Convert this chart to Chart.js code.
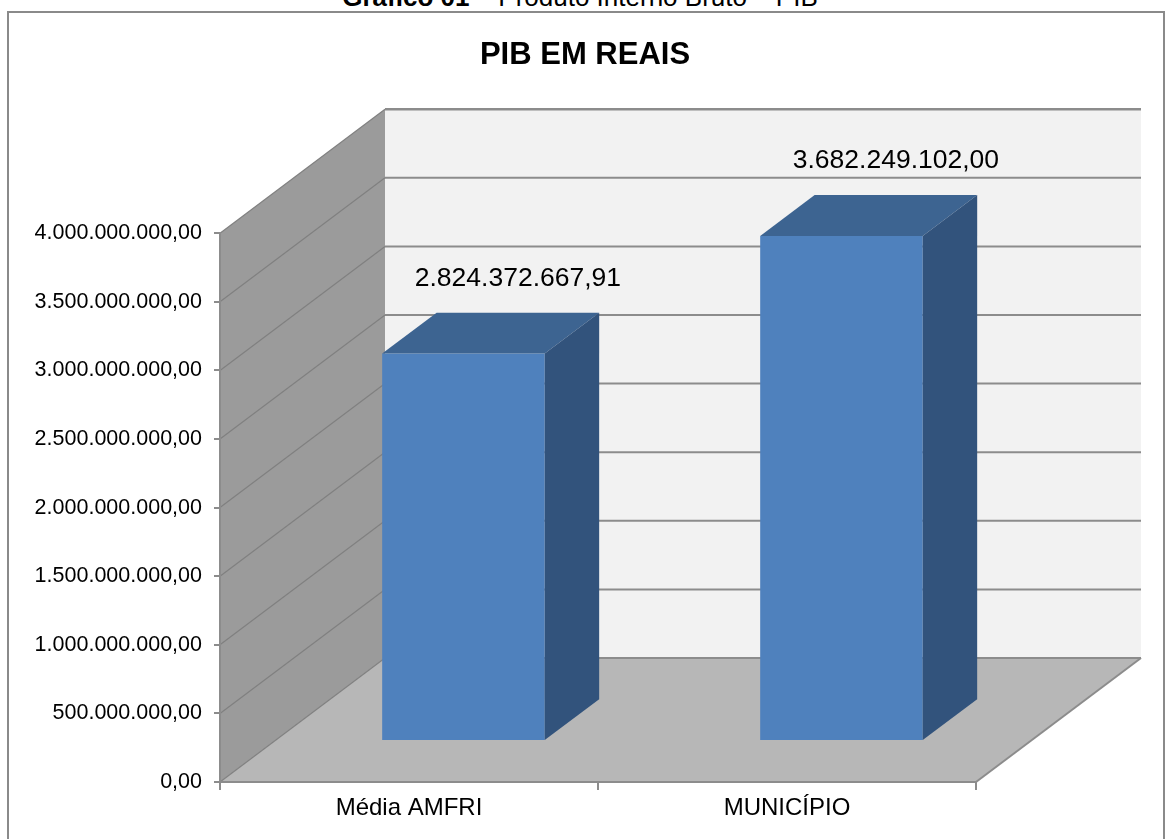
<!DOCTYPE html>
<html>
<head>
<meta charset="utf-8">
<script src="https://cdn.jsdelivr.net/npm/chart.js@4/dist/chart.umd.min.js"></script>
<style>
  body { margin: 0; background: #fff; width: 1170px; height: 839px; overflow: hidden; position: relative; font-family: "Liberation Sans", Arial, sans-serif; }
  #cap { position: absolute; top: -18px; left: 0; width: 1160px; text-align: center; font-size: 26px; line-height: 30px; color: #000; white-space: nowrap; }
  #frame { position: absolute; left: 7px; top: 11px; width: 1154px; height: 900px; border: 2px solid #8a8a8a; }
  #wrap { position: absolute; left: 0; top: 0; width: 1170px; height: 839px; }
</style>
</head>
<body>
<div id="cap"><b>Gráfico 01</b> – Produto Interno Bruto – PIB</div>
<div id="frame"></div>
<div id="wrap"><canvas id="chart"></canvas></div>
<script>
const categories = ["Média AMFRI", "MUNICÍPIO"];
const pibValues = [2824372667.91, 3682249102.00];
const yMin = 0;
const yMax = 4000000000;
const yStep = 500000000;

// 3D look (Excel style oblique projection)
const depth = { x: 165, y: -124 };
const barFront = 0.33, barDepth = 0.33;
const FONT = "'Liberation Sans', Arial, sans-serif";

function fmt(v) {
  const [i, d] = v.toFixed(2).split(".");
  return i.replace(/\B(?=(\d{3})+(?!\d))/g, ".") + "," + d;
}

const wallsPlugin = {
  id: "walls",
  beforeDraw(chart) {
    const { ctx, chartArea: a, scales: { y } } = chart;
    const L = a.left, R = a.right, T = a.top, B = a.bottom;
    const dx = depth.x, dy = depth.y;
    ctx.save();
    // side wall
    ctx.fillStyle = "#9b9b9b";
    ctx.beginPath();
    ctx.moveTo(L, T); ctx.lineTo(L + dx, T + dy); ctx.lineTo(L + dx, B + dy); ctx.lineTo(L, B);
    ctx.closePath(); ctx.fill();
    // back wall
    ctx.fillStyle = "#f2f2f2";
    ctx.fillRect(L + dx, T + dy, R - L, B - T);
    // floor
    ctx.fillStyle = "#b7b7b7";
    ctx.beginPath();
    ctx.moveTo(L, B); ctx.lineTo(R, B); ctx.lineTo(R + dx, B + dy); ctx.lineTo(L + dx, B + dy);
    ctx.closePath(); ctx.fill();
    // gridlines on side + back wall
    y.ticks.forEach(t => {
      const p = y.getPixelForValue(t.value);
      ctx.strokeStyle = "#808080";
      ctx.lineWidth = 1.2;
      ctx.beginPath(); ctx.moveTo(L, p); ctx.lineTo(L + dx, p + dy); ctx.stroke();
      ctx.strokeStyle = "#8c8c8c";
      ctx.lineWidth = t.value === yMax ? 2.5 : 2;
      ctx.beginPath(); ctx.moveTo(L + dx, p + dy); ctx.lineTo(R + dx, p + dy); ctx.stroke();
    });
    ctx.strokeStyle = "#8c8c8c";
    ctx.lineWidth = 2;
    ctx.beginPath(); ctx.moveTo(R, B); ctx.lineTo(R + dx, B + dy); ctx.stroke();
    ctx.restore();
  },
  beforeDatasetsDraw(chart) {
    chart.ctx.save();
    chart.ctx.translate(depth.x * barFront, depth.y * barFront);
  },
  afterDatasetsDraw(chart) {
    const ctx = chart.ctx;
    ctx.restore();
    const fx = depth.x * barFront, fy = depth.y * barFront;
    const bx = depth.x * barDepth, by = depth.y * barDepth;
    chart.getDatasetMeta(0).data.forEach((bar, i) => {
      const { x, y, base, width } = bar.getProps(["x", "y", "base", "width"], true);
      const l = x - width / 2 + fx, r = x + width / 2 + fx;
      const t = y + fy, b = base + fy;
      ctx.save();
      ctx.fillStyle = "#3d6491";
      ctx.beginPath();
      ctx.moveTo(l, t); ctx.lineTo(r, t); ctx.lineTo(r + bx, t + by); ctx.lineTo(l + bx, t + by);
      ctx.closePath(); ctx.fill();
      ctx.fillStyle = "#32537c";
      ctx.beginPath();
      ctx.moveTo(r, t); ctx.lineTo(r + bx, t + by); ctx.lineTo(r + bx, b + by); ctx.lineTo(r, b);
      ctx.closePath(); ctx.fill();
      ctx.fillStyle = "#000";
      ctx.font = "26.5px " + FONT;
      ctx.textAlign = "center";
      ctx.textBaseline = "middle";
      ctx.fillText(fmt(pibValues[i]), x + fx + bx, t + by - 34);
      ctx.restore();
    });
  }
};

new Chart(document.getElementById("chart"), {
  type: "bar",
  data: {
    labels: categories,
    datasets: [{
      data: pibValues,
      backgroundColor: "#4f81bd",
      borderWidth: 0,
      barPercentage: 0.43,
      categoryPercentage: 1,
      clip: false
    }]
  },
  options: {
    responsive: true,
    maintainAspectRatio: false,
    animation: false,
    layout: { padding: 0 },
    plugins: {
      legend: { display: false },
      tooltip: { enabled: false },
      title: {
        display: true,
        text: "PIB EM REAIS",
        color: "#000",
        font: { family: FONT, size: 31, weight: "bold" },
        padding: { top: 37, bottom: 159 }
      }
    },
    scales: {
      x: {
        afterFit: s => { s.height = 57; },
        grid: { offset: true, drawOnChartArea: false, tickLength: 8, color: "#8c8c8c", lineWidth: 2 },
        border: { color: "#8c8c8c", width: 2 },
        ticks: { color: "#000", padding: 4, font: { family: FONT, size: 24 } }
      },
      y: {
        min: yMin,
        max: yMax,
        afterFit: s => { s.width = 220; },
        grid: { drawOnChartArea: false, tickLength: 6, color: "#8c8c8c", lineWidth: 2 },
        border: { color: "#8c8c8c", width: 2 },
        ticks: {
          stepSize: yStep,
          color: "#000",
          padding: 12,
          font: { family: FONT, size: 21.5 },
          callback: v => fmt(v)
        }
      },
      // empty right-hand space so the title centres on the whole box
      pad: {
        type: "linear",
        position: "right",
        afterFit: s => { s.width = 194; },
        grid: { display: false },
        border: { display: false },
        ticks: { display: false }
      }
    }
  },
  plugins: [wallsPlugin]
});
</script>
</body>
</html>
